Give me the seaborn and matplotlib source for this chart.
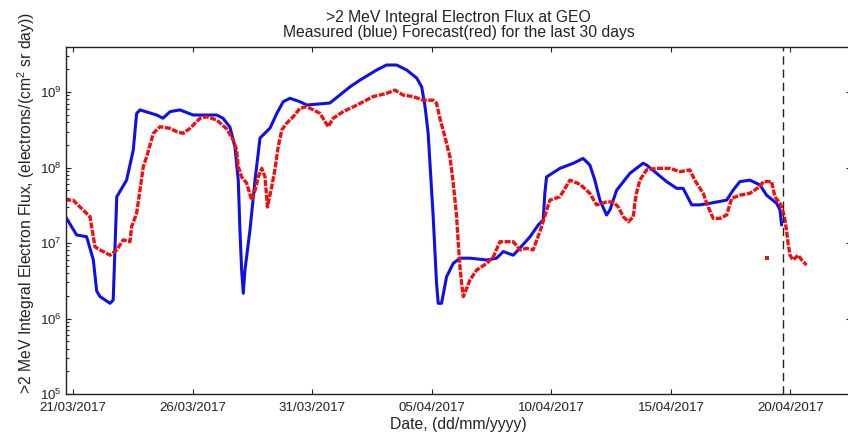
import numpy as np
import pandas as pd
import matplotlib
matplotlib.use("Agg")
import matplotlib.pyplot as plt
import matplotlib.ticker as mticker
import seaborn as sns

# Time axis: days elapsed since 21/03/2017 00:00 UT
measured_day = [-0.33, 0.15, 0.57, 0.85, 0.99, 1.13, 1.55, 1.68, 1.83, 2.24, 2.52, 2.66,
                2.80, 3.50, 3.76, 4.06, 4.47, 5.02, 6.01, 6.27, 6.56, 6.77, 6.91, 6.98,
                7.05, 7.12, 7.19, 7.40, 7.61, 7.82, 8.24, 8.52, 8.79, 9.07, 9.49, 9.77,
                10.74, 11.58, 12.00, 12.70, 13.11, 13.53, 13.95, 14.37, 14.58, 14.72, 14.85,
                15.06, 15.20, 15.27, 15.41, 15.62, 15.90, 16.18, 16.60, 17.30, 17.71, 17.99,
                18.41, 18.69, 19.11, 19.45, 19.66, 19.73, 19.80, 20.36, 20.92, 21.33, 21.61,
                21.82, 22.03, 22.31, 22.45, 22.73, 23.29, 23.84, 23.98, 24.40, 24.82, 25.24,
                25.51, 25.87, 26.21, 26.63, 27.33, 27.60, 27.88, 28.30, 28.72, 29.00, 29.42,
                29.56, 29.63]
measured_flux = [2.28e7, 1.28e7, 1.21e7, 5.96e6, 2.31e6, 1.95e6, 1.59e6, 1.76e6, 4.1e7, 6.8e7,
                 1.71e8, 5.2e8, 5.8e8, 4.96e8, 4.5e8, 5.5e8, 5.8e8, 4.96e8, 4.96e8, 4.5e8,
                 3.44e8, 1.89e8, 6.8e7, 1.49e7, 4.4e6, 2.16e6, 4.4e6, 1.49e7, 6.8e7, 2.46e8,
                 3.34e8, 5.2e8, 7.45e8, 8.26e8, 7.45e8, 6.73e8, 7.15e8, 1.17e9, 1.44e9, 1.96e9,
                 2.28e9, 2.28e9, 1.96e9, 1.53e9, 1.17e9, 6.4e8, 2.84e8, 2.23e7, 2.95e6, 1.59e6,
                 1.59e6, 3.58e6, 5.38e6, 6.3e6, 6.3e6, 5.96e6, 6.3e6, 7.7e6, 6.9e6, 8.6e6,
                 1.21e7, 1.73e7, 2.02e7, 4.6e7, 7.5e7, 9.75e7, 1.14e8, 1.32e8, 1.08e8, 6.8e7,
                 3.7e7, 2.35e7, 2.74e7, 5.0e7, 8.4e7, 1.14e8, 1.08e8, 8.4e7, 6.5e7, 5.3e7,
                 5.3e7, 3.2e7, 3.2e7, 3.36e7, 3.7e7, 5.0e7, 6.5e7, 6.8e7, 5.9e7, 4.3e7, 3.36e7,
                 2.74e7, 1.73e7]

forecast_day = [-0.33, 0.00, 0.42, 0.71, 0.92, 1.13, 1.55, 1.83, 2.10, 2.38, 2.45, 2.66, 2.80,
                2.94, 3.08, 3.22, 3.36, 3.64, 4.06, 4.34, 4.61, 4.89, 5.31, 5.59, 6.01, 6.43,
                6.70, 6.84, 6.91, 7.05, 7.26, 7.47, 7.61, 7.75, 7.89, 8.03, 8.13, 8.31, 8.44,
                8.58, 8.73, 8.93, 9.21, 9.49, 9.77, 10.05, 10.33, 10.67, 10.88, 11.30, 11.86,
                12.55, 13.11, 13.46, 13.81, 14.23, 14.64, 15.06, 15.20, 15.34, 15.55, 15.76,
                15.90, 16.04, 16.11, 16.18, 16.25, 16.32, 16.60, 16.88, 17.30, 17.58, 17.85,
                18.41, 18.69, 18.97, 19.24, 19.52, 19.94, 20.36, 20.78, 21.20, 21.61, 21.89,
                22.31, 22.59, 22.80, 23.01, 23.22, 23.43, 23.49, 23.56, 23.70, 23.98, 24.40,
                24.96, 25.38, 25.79, 26.00, 26.35, 26.56, 26.77, 27.05, 27.33, 27.54, 27.88,
                28.30, 28.72, 28.86, 29.21, 29.35, 29.56, 29.69, 29.77, 29.84, 29.90, 29.98,
                30.11, 30.32, 30.47, 30.67]
forecast_flux = [3.7e7, 3.7e7, 2.74e7, 2.23e7, 8.9e6, 8.1e6, 6.9e6, 8.1e6, 1.1e7, 1.04e7, 1.64e7,
                 2.47e7, 5.0e7, 1.03e8, 1.39e8, 1.99e8, 2.84e8, 3.47e8, 3.3e8, 2.98e8, 2.84e8,
                 3.3e8, 4.49e8, 4.71e8, 4.26e8, 3.24e8, 2.31e8, 1.71e8, 1.03e8, 7.5e7, 6.2e7,
                 3.7e7, 5.0e7, 7.5e7, 9.75e7, 7.5e7, 3.0e7, 5.6e7, 9.3e7, 1.89e8, 3.14e8,
                 3.85e8, 4.71e8, 6.1e8, 6.4e8, 5.8e8, 5.2e8, 3.47e8, 4.49e8, 5.5e8, 6.7e8,
                 8.7e8, 9.6e8, 1.06e9, 9.1e8, 8.7e8, 7.8e8, 7.8e8, 7.1e8, 4.5e8, 2.56e8,
                 1.39e8, 6.2e7, 2.23e7, 9.9e6, 4.85e6, 2.92e6, 1.95e6, 3.24e6, 4.39e6, 5.38e6,
                 6.6e6, 1.04e7, 1.04e7, 8.1e6, 8.5e6, 8.1e6, 1.41e7, 3.7e7, 4.1e7, 6.8e7, 6.0e7,
                 4.55e7, 3.2e7, 3.5e7, 3.5e7, 3.0e7, 2.23e7, 1.91e7, 2.23e7, 3.36e7, 4.55e7,
                 6.8e7, 9.3e7, 9.75e7, 9.75e7, 8.8e7, 9.3e7, 6.8e7, 4.55e7, 3.0e7, 2.12e7,
                 2.12e7, 2.35e7, 3.9e7, 4.3e7, 4.55e7, 5.6e7, 6.5e7, 6.5e7, 4.1e7, 3.36e7,
                 2.6e7, 2.02e7, 1.41e7, 9.9e6, 6.9e6, 5.96e6, 6.9e6, 5.96e6, 5.1e6]

# Single forecast sample separated from the rest of the series
stray_day = [29.00]
stray_flux = [6.3e6]

# Time of the latest measurement
now_day = 29.67

tick_days = [0, 5, 10, 15, 20, 25, 30]
tick_labels = ["21/03/2017", "26/03/2017", "31/03/2017", "05/04/2017",
               "10/04/2017", "15/04/2017", "20/04/2017"]

sns.set_theme(style="white")
plt.rcParams["font.family"] = ["Liberation Sans", "DejaVu Sans"]
plt.rcParams["mathtext.fontset"] = "custom"
plt.rcParams["mathtext.rm"] = "Liberation Sans"
plt.rcParams["mathtext.it"] = "Liberation Sans:italic"

measured = pd.DataFrame({"day": measured_day, "flux": measured_flux})
forecast = pd.DataFrame({"day": forecast_day, "flux": forecast_flux})
stray = pd.DataFrame({"day": stray_day, "flux": stray_flux})

fig = plt.figure(figsize=(8.48, 4.34), dpi=100)
ax = fig.add_axes([66 / 848, 40 / 434, 785 / 848, 347 / 434])

sns.lineplot(data=measured, x="day", y="flux", color="#1010e6", lw=2.2,
             sort=False, estimator=None, ax=ax)
sns.lineplot(data=forecast, x="day", y="flux", color="#f01010", lw=2.4,
             linestyle=(0, (1.8, 0.45)), dash_capstyle="butt",
             sort=False, estimator=None, ax=ax)
sns.scatterplot(data=stray, x="day", y="flux", color="#f01010", marker="s",
                s=7, linewidth=0, ax=ax)

ax.axvline(now_day, color="#222222", lw=1.0, linestyle=(0, (6, 3.5)))

ax.set_yscale("log")
ax.set_ylim(1e5, 3.95e9)
ax.set_xlim(-0.293, 32.53)
ax.yaxis.set_major_locator(mticker.LogLocator(base=10, numticks=12))
ax.yaxis.set_minor_locator(mticker.LogLocator(base=10, subs=np.arange(2, 10), numticks=12))
ax.yaxis.set_minor_formatter(mticker.NullFormatter())
ax.set_xticks(tick_days)
ax.set_xticklabels(tick_labels)

ax.tick_params(which="both", direction="in", top=True, right=True,
               left=True, bottom=True, colors="#222222", width=0.8)
ax.tick_params(which="major", length=3.8, labelsize=9.6, labelcolor="#222222")
ax.tick_params(which="minor", length=2.2)
ax.tick_params(axis="x", pad=5.5)
ax.tick_params(axis="y", pad=3)

for sp in ax.spines.values():
    sp.set_color("#222222")
    sp.set_linewidth(1.0)

ax.set_xlabel("Date, (dd/mm/yyyy)", fontsize=11.3, color="#222222", labelpad=2.5)
ax.set_ylabel(r">2 MeV Integral Electron Flux, (electrons/(cm$^2$ sr day))",
              fontsize=11.3, color="#222222")
ax.yaxis.set_label_coords(-0.037, 0.55)
ax.set_title(">2 MeV Integral Electron Flux at GEO\n"
             "Measured (blue) Forecast(red) for the last 30 days",
             fontsize=11.3, color="#222222", linespacing=1.0, pad=7)

fig.savefig("out.png", dpi=100, facecolor="white")
